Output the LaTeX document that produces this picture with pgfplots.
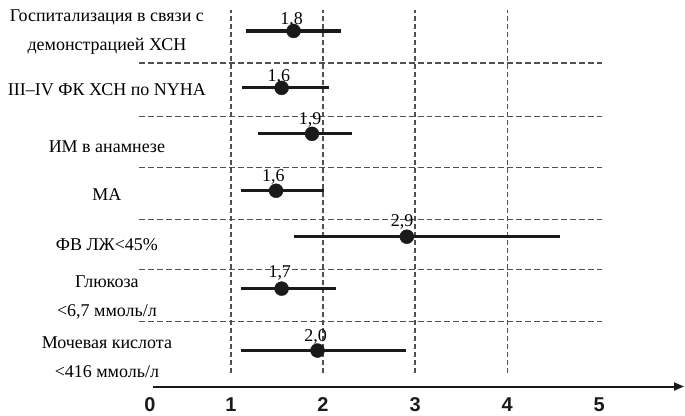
\documentclass[border=0pt]{standalone}
\usepackage{pgfplots}
\pgfplotsset{compat=1.18}
\usepackage{fontspec}
\setmainfont{Liberation Serif}
\newfontfamily\tickfont{Liberation Sans}
\usetikzlibrary{arrows.meta}
\definecolor{gridgray}{HTML}{505050}
\definecolor{ink}{HTML}{1A1A1A}
\begin{document}
\begin{tikzpicture}
\begin{axis}[
  scale only axis, width=536.6pt, height=387pt,
  xmin=0.1, xmax=5.92, ymin=0, ymax=387,
  clip=false,
  axis x line*=bottom, axis y line=none,
  x axis line style={-{Triangle[length=10pt,width=8pt]}, line width=2pt, ink, shorten <=4.6pt},
  xtick={0.12,1,2,3,4,5}, xticklabels={0,1,2,3,4,5},
  major tick length=0pt,
  xticklabel style={font=\tickfont\bfseries\fontsize{20}{20}\selectfont, yshift=-8pt, text=ink},
  ytick=\empty,
]
% bounding box
\path (axis cs:-1.508,-28) -- (axis cs:5.92,387);
% vertical dashed grid lines
\foreach \v in {1,2,3,4} {
  \edef\tmp{\noexpand\addplot[gridgray, line width=1.3pt, dash pattern=on 5pt off 3pt, forget plot] coordinates {(\v,14) (\v,377)};}
  \tmp
}
% horizontal dashed separators
\foreach \h in {324,270,219,167,117,65} {
  \edef\tmp{\noexpand\addplot[gridgray, line width=1.3pt, dash pattern=on 6pt off 3pt, forget plot] coordinates {(0,\h) (5.03,\h)};}
  \tmp
}
% confidence intervals
\addplot[ink, line width=3.2pt] coordinates {(1.16,356) (2.20,356)};
\addplot[ink, line width=3.2pt] coordinates {(1.12,299) (2.07,299)};
\addplot[ink, line width=3.2pt] coordinates {(1.29,253) (2.32,253)};
\addplot[ink, line width=3.2pt] coordinates {(1.11,196) (2.01,196)};
\addplot[ink, line width=3.2pt] coordinates {(1.68,150) (4.57,150)};
\addplot[ink, line width=3.2pt] coordinates {(1.11,98) (2.14,98)};
\addplot[ink, line width=3.2pt] coordinates {(1.11,36) (2.90,36)};
% point estimates
\addplot[only marks, mark=*, mark size=7pt, ink] coordinates {
  (1.68,356) (1.55,299) (1.88,253) (1.49,196) (2.91,150) (1.55,98) (1.94,36)};
% value labels
\begin{scope}[every node/.style={font=\fontsize{18}{18}\selectfont, inner sep=0pt, anchor=base}]
\node at (axis cs:1.66,362) {1,8};
\node at (axis cs:1.52,305) {1,6};
\node at (axis cs:1.86,262) {1,9};
\node at (axis cs:1.46,205) {1,6};
\node at (axis cs:2.86,160) {2,9};
\node at (axis cs:1.53,109) {1,7};
\node at (axis cs:1.92,45) {2,0};
\end{scope}
% row labels
\begin{scope}[every node/.style={font=\fontsize{18}{29}\selectfont, align=center, inner sep=0pt}]
\node at (axis cs:-0.347,354.5) {Госпитализация в связи с\\демонстрацией ХСН};
\node at (axis cs:-0.347,297) {III–IV ФК ХСН по NYHA};
\node at (axis cs:-0.347,240) {ИМ в анамнезе};
\node at (axis cs:-0.347,192) {МА};
\node at (axis cs:-0.347,142) {ФВ ЛЖ<45\%};
\node at (axis cs:-0.347,89) {Глюкоза\\<6,7 ммоль/л};
\node at (axis cs:-0.347,29.5) {Мочевая кислота\\<416 ммоль/л};
\end{scope}
\end{axis}
\end{tikzpicture}
\end{document}
